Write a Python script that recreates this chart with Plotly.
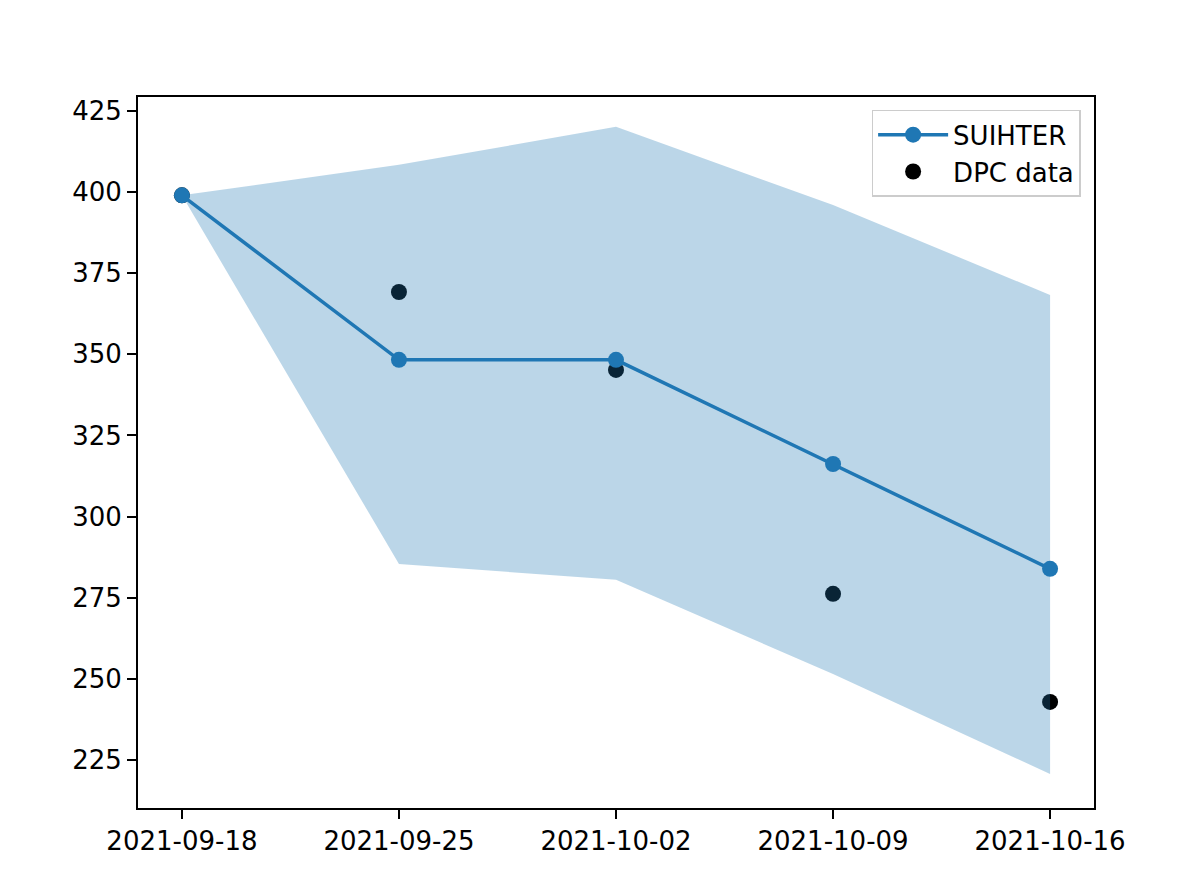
import plotly.graph_objects as go

# weekly values
dates = ['2021-09-18', '2021-09-25', '2021-10-02', '2021-10-09', '2021-10-16']
suihter = [399, 348.3, 348.3, 316.2, 283.9]
band_upper = [399, 408.4, 420.1, 396.0, 368.3]
band_lower = [399, 285.4, 280.5, 251.5, 220.7]
dpc_data = [399, 369.2, 345.2, 276.2, 242.9]

BLUE = '#1f77b4'
FONT = dict(family='DejaVu Sans', size=26, color='black')

fig = go.Figure()

# DPC points go first, the band is painted over them like in the original
fig.add_trace(go.Scatter(
    x=dates, y=dpc_data, mode='markers', name='DPC data',
    marker=dict(color='black', size=16), legendgroup='dpc',
))

fig.add_trace(go.Scatter(
    x=dates, y=band_upper, mode='lines', line=dict(width=0),
    showlegend=False, hoverinfo='skip',
))
fig.add_trace(go.Scatter(
    x=dates, y=band_lower, mode='lines', line=dict(width=0),
    fill='tonexty', fillcolor='rgba(31,119,180,0.3)',
    showlegend=False, hoverinfo='skip',
))

fig.add_trace(go.Scatter(
    x=dates, y=suihter, mode='lines+markers', name='SUIHTER',
    line=dict(color=BLUE, width=3.5),
    marker=dict(color=BLUE, size=16), legendgroup='model',
))

axis_style = dict(
    showline=True, linecolor='black', linewidth=2, mirror=True,
    ticks='outside', ticklen=9, tickwidth=2, tickcolor='black',
    showgrid=False, zeroline=False, tickfont=FONT,
)

fig.update_xaxes(
    type='date',
    range=['2021-09-16 14:00', '2021-10-17 10:00'],
    tick0='2021-09-18', dtick=7 * 24 * 3600 * 1000,
    tickformat='%Y-%m-%d',
    **axis_style,
)
fig.update_yaxes(
    range=[210.2, 429.3],
    tickvals=[225, 250, 275, 300, 325, 350, 375, 400, 425],
    **axis_style,
)

fig.update_layout(
    width=1196, height=887,
    plot_bgcolor='white', paper_bgcolor='white',
    margin=dict(l=130, r=110, t=89, b=87),
    font=FONT,
    legend=dict(
        x=0.986, y=0.982, xanchor='right', yanchor='top',
        bgcolor='rgba(255,255,255,0.8)', bordercolor='#cccccc', borderwidth=1.5,
        traceorder='reversed', font=FONT, itemwidth=70, tracegroupgap=4,
    ),
    showlegend=True,
)

fig.write_html('out.html')
